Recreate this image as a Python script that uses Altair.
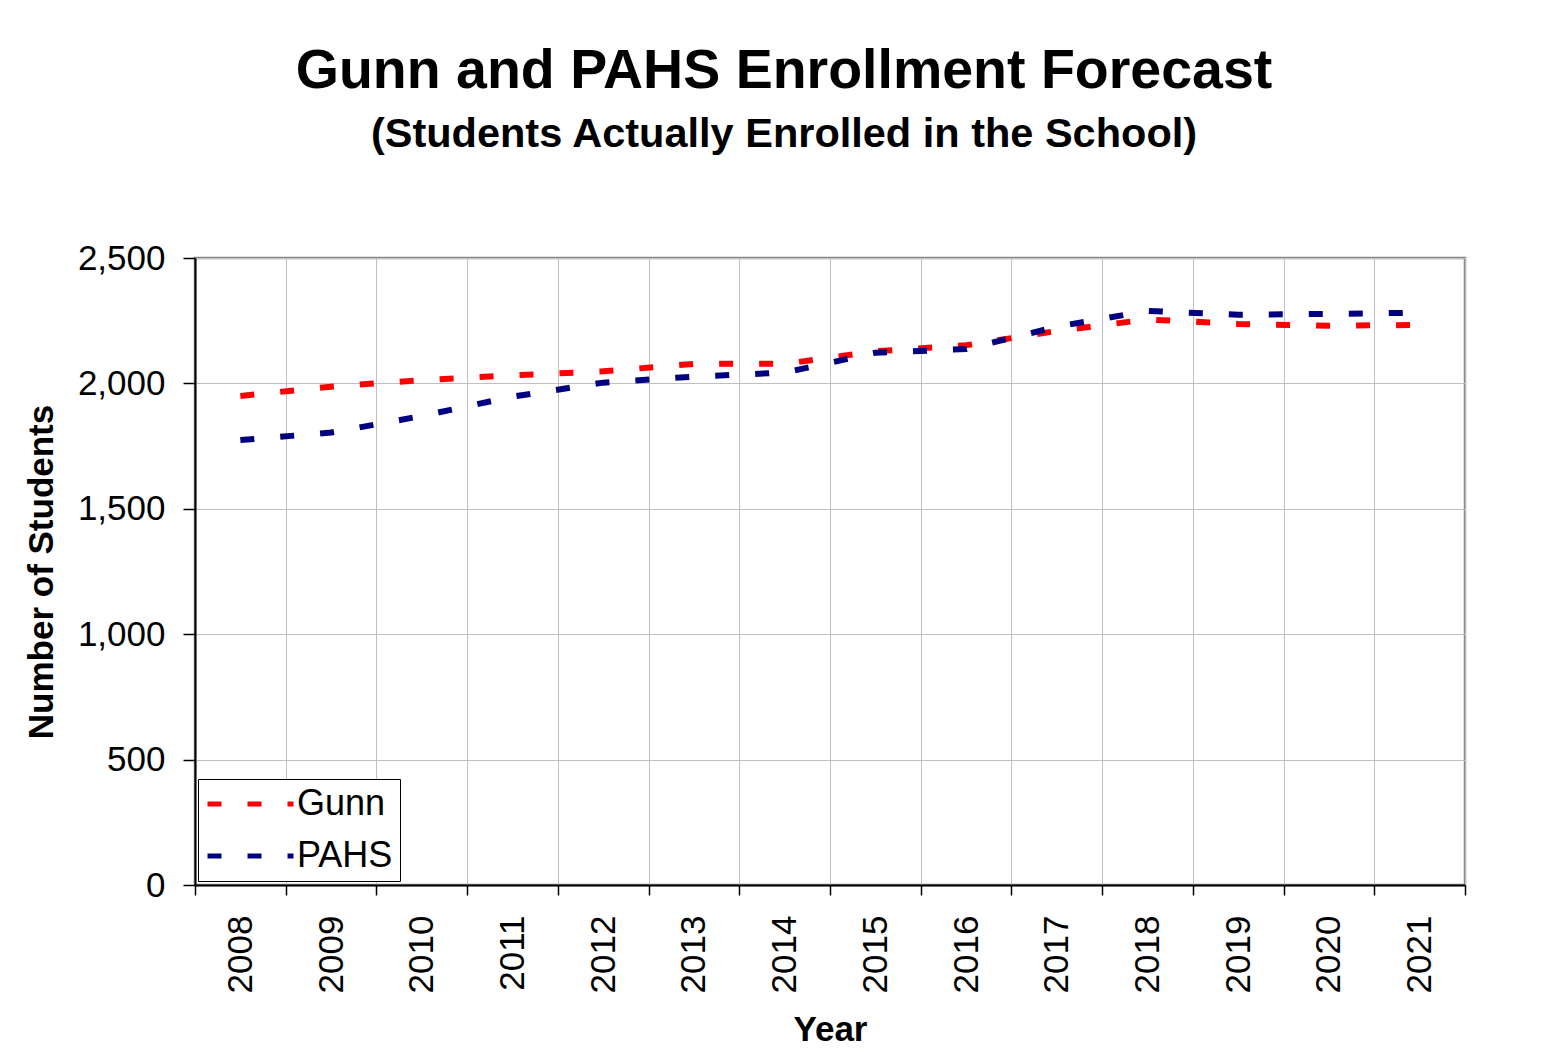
import altair as alt
import pandas as pd

years = list(range(2008, 2022))
gunn = [1950, 1987, 2013, 2032, 2048, 2078, 2078, 2128, 2152, 2209, 2255, 2237, 2230, 2233]
pahs = [1774, 1804, 1870, 1947, 2003, 2027, 2043, 2122, 2137, 2226, 2289, 2274, 2277, 2282]
series = ["Gunn", "PAHS"]
colors = ["#ff0000", "#000080"]

df = pd.DataFrame(
    {"year": years * 2, "value": gunn + pahs, "school": ["Gunn"] * len(years) + ["PAHS"] * len(years)}
)

FONT = "Liberation Sans"
xvals = sorted([y - 0.5 for y in years] + years + [years[-1] + 0.5])
half = {"condition": {"test": "datum.value % 1 !== 0", "value": 1}, "value": 0}

chart = (
    alt.Chart(df)
    .mark_line(strokeDash=[14, 26], strokeWidth=6)
    .encode(
        x=alt.X(
            "year:Q",
            scale=alt.Scale(domain=[2007.5, 2021.5], nice=False, zero=False),
            axis=alt.Axis(
                values=xvals,
                labelExpr="datum.value % 1 === 0 ? toString(datum.value) : ''",
                gridOpacity=half,
                tickOpacity=half,
                labelAngle=-90,
                labelOverlap=False,
                labelFlush=False,
                labelFontSize=35,
                labelFont=FONT,
                labelColor="black",
                labelPadding=20,
                tickSize=10,
                tickColor="black",
                tickWidth=1.5,
                domainColor="black",
                domainWidth=2,
                gridColor="#c0c0c0",
                gridWidth=1,
                title="Year",
                titleFont=FONT,
                titleFontSize=35,
                titleFontWeight="bold",
                titleColor="black",
                titlePadding=20,
            ),
        ),
        y=alt.Y(
            "value:Q",
            scale=alt.Scale(domain=[0, 2500], nice=False),
            axis=alt.Axis(
                values=[0, 500, 1000, 1500, 2000, 2500],
                format=",.0f",
                labelFontSize=35,
                labelFont=FONT,
                labelColor="black",
                labelPadding=18,
                tickSize=12,
                tickColor="black",
                tickWidth=1.5,
                domainColor="black",
                domainWidth=2,
                gridColor="#c0c0c0",
                gridWidth=1,
                title="Number of Students",
                titleFont=FONT,
                titleFontSize=35,
                titleFontWeight="bold",
                titleColor="black",
                titlePadding=18,
            ),
        ),
        color=alt.Color(
            "school:N",
            scale=alt.Scale(domain=series, range=colors),
            legend=alt.Legend(
                orient="none",
                legendX=3,
                legendY=521,
                title=None,
                symbolType="stroke",
                symbolStrokeWidth=5,
                symbolDash=[14, 26],
                symbolSize=7396,
                clipHeight=36,
                labelFontSize=36,
                labelFont=FONT,
                labelColor="black",
                labelOffset=1,
                strokeColor="black",
                fillColor="white",
                padding=7,
                rowPadding=16,
            ),
        ),
    )
    .properties(
        width=1270,
        height=627,
        autosize=alt.AutoSizeParams(type="none"),
        padding={"left": 187, "top": 250, "right": 80, "bottom": 168},
        title=alt.TitleParams(
            text="Gunn and PAHS Enrollment Forecast",
            subtitle="(Students Actually Enrolled in the School)",
            font=FONT,
            fontSize=55.5,
            fontWeight="bold",
            color="black",
            subtitleFont=FONT,
            subtitleFontSize=41.5,
            subtitleFontWeight="bold",
            subtitleColor="black",
            subtitlePadding=14,
            anchor="middle",
            dx=-46,
            offset=86,
        ),
    )
    .configure_view(stroke="#888888", strokeWidth=2.5)
)

chart.save("out.html", embed_options={"renderer": "svg", "actions": False})
